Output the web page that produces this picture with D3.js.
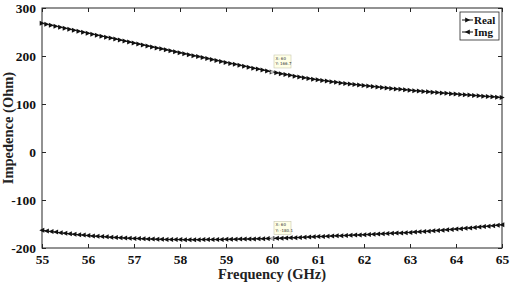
<!DOCTYPE html>
<html>
<head>
<meta charset="utf-8">
<script src="https://cdn.jsdelivr.net/npm/d3@7"></script>
<style>
  body { margin: 0; background: #fff; }
  svg text { font-family: "Liberation Serif", "Times New Roman", Times, "DejaVu Serif", serif; font-weight: bold; }
</style>
</head>
<body>
<svg id="vis"></svg>
<script>
// sampling grid 55..65 GHz, 0.1 GHz step
const freq = d3.range(0, 101).map(i => +(55 + i * 0.1).toFixed(1));

const realZ = [
  268.0, 266.0, 263.9, 261.9, 259.8, 257.8, 255.7, 253.7, 251.6, 249.6,
  247.5, 245.5, 243.4, 241.4, 239.3, 237.3, 235.2, 233.2, 231.1, 229.1,
  227.0, 225.0, 223.0, 220.9, 218.9, 216.9, 214.9, 212.9, 210.8, 208.8,
  206.8, 204.8, 202.8, 200.7, 198.7, 196.7, 194.7, 192.7, 190.7, 188.6,
  186.6, 184.6, 182.6, 180.6, 178.6, 176.6, 174.7, 172.7, 170.7, 168.7,
  166.7, 164.9, 163.1, 161.4, 159.7, 158.0, 156.4, 154.8, 153.2, 151.8,
  150.4, 149.0, 147.7, 146.4, 145.1, 143.9, 142.7, 141.6, 140.5, 139.4,
  138.4, 137.4, 136.4, 135.4, 134.4, 133.4, 132.4, 131.5, 130.5, 129.6,
  128.6, 127.8, 127.0, 126.2, 125.4, 124.6, 123.8, 123.0, 122.2, 121.4,
  120.6, 119.9, 119.2, 118.5, 117.8, 117.1, 116.4, 115.7, 115.0, 114.3,
  113.6
];

const imgZ = [
  -163.0, -164.4, -165.7, -166.9, -168.1, -169.2, -170.3, -171.3, -172.2, -173.1,
  -174.0, -174.8, -175.5, -176.2, -176.8, -177.4, -178.0, -178.5, -179.0, -179.5,
  -180.0, -180.4, -180.8, -181.1, -181.4, -181.7, -181.9, -182.1, -182.3, -182.4,
  -182.5, -182.6, -182.6, -182.6, -182.6, -182.5, -182.5, -182.4, -182.3, -182.2,
  -182.0, -181.9, -181.7, -181.5, -181.4, -181.2, -181.0, -180.8, -180.6, -180.4,
  -180.1, -179.8, -179.5, -179.1, -178.8, -178.4, -178.0, -177.6, -177.2, -176.8,
  -176.3, -175.9, -175.5, -175.1, -174.7, -174.3, -173.9, -173.5, -173.1, -172.7,
  -172.3, -171.9, -171.4, -170.9, -170.5, -170.0, -169.5, -169.0, -168.5, -168.0,
  -167.5, -166.9, -166.3, -165.6, -164.9, -164.2, -163.5, -162.8, -162.0, -161.3,
  -160.5, -159.7, -158.9, -158.1, -157.2, -156.3, -155.4, -154.5, -153.5, -152.5,
  -151.5
];

const xTicks = [55, 56, 57, 58, 59, 60, 61, 62, 63, 64, 65];
const yTicks = [-200, -100, 0, 100, 200, 300];
const seriesNames = ['Real', 'Img'];
const tips = [
  { x: 60, y: 166.7, label: 'Y: 166.7' },
  { x: 60, y: -180.1, label: 'Y: -180.1' }
];

const width = 510, height = 290;
const margin = { left: 42, right: 8, top: 8, bottom: 42 };
const axisColour = '#262626';
const serif = '"Liberation Serif", "Times New Roman", Times, "DejaVu Serif", serif';

const svg = d3.select('#vis').attr('width', width).attr('height', height);

const x = d3.scaleLinear().domain([55, 65]).range([margin.left, width - margin.right]);
const y = d3.scaleLinear().domain([-200, 300]).range([height - margin.bottom, margin.top]);

// box
svg.append('rect')
    .attr('x', x(55)).attr('y', y(300))
    .attr('width', x(65) - x(55)).attr('height', y(-200) - y(300))
    .attr('fill', 'white').attr('stroke', axisColour).attr('stroke-width', 1);

function styleAxis(g) {
    g.attr('font-family', null);
    g.select('.domain').remove();
    g.selectAll('.tick line').attr('stroke', axisColour);
    g.selectAll('.tick text')
        .attr('fill', '#111')
        .style('font-size', '13.5px')
        .style('font-family', serif)
        .style('font-weight', 'bold');
}

const plain = d => String(d);   // hyphen minus like the original

// ticks inside, MATLAB style
svg.append('g').attr('transform', `translate(0,${y(-200)})`)
    .call(d3.axisBottom(x).tickValues(xTicks).tickFormat(plain).tickSizeInner(-4).tickPadding(6))
    .call(styleAxis);
svg.append('g').attr('transform', `translate(0,${y(300)})`)
    .call(d3.axisTop(x).tickValues(xTicks).tickSizeInner(-4).tickFormat(''))
    .call(styleAxis);
svg.append('g').attr('transform', `translate(${x(55)},0)`)
    .call(d3.axisLeft(y).tickValues(yTicks).tickFormat(plain).tickSizeInner(-4).tickPadding(6))
    .call(styleAxis);
svg.append('g').attr('transform', `translate(${x(65)},0)`)
    .call(d3.axisRight(y).tickValues(yTicks).tickSizeInner(-4).tickFormat(''))
    .call(styleAxis);

svg.append('text')
    .attr('x', (x(55) + x(65)) / 2).attr('y', 279)
    .attr('text-anchor', 'middle')
    .style('font-size', '14.5px').style('font-family', serif).attr('fill', '#222')
    .text('Frequency (GHz)');

svg.append('text')
    .attr('transform', `translate(13,${(y(300) + y(-200)) / 2}) rotate(-90)`)
    .attr('text-anchor', 'middle')
    .style('font-size', '14.5px').style('font-family', serif).attr('fill', '#222')
    .text('Impedence (Ohm)');

const line = d3.line().x(d => x(d[0])).y(d => y(d[1]));

function triangle(dir) {
    // dir = 1 points right, -1 points left
    return `M${2.7 * dir},0L${-2.3 * dir},-2.5L${-2.3 * dir},2.5Z`;
}

function drawSeries(values, dir) {
    const pts = freq.map((f, i) => [f, values[i]]);
    const g = svg.append('g');
    g.append('path').datum(pts).attr('d', line)
        .attr('fill', 'none').attr('stroke', '#111').attr('stroke-width', 1);
    g.selectAll('path.mk').data(pts).join('path')
        .attr('class', 'mk')
        .attr('transform', d => `translate(${x(d[0])},${y(d[1])})`)
        .attr('d', triangle(dir))
        .attr('fill', '#111');
}

drawSeries(realZ, 1);
drawSeries(imgZ, -1);

// data tips
tips.forEach(t => {
    const px = x(t.x), py = y(t.y);
    svg.append('rect').attr('x', px - 1.5).attr('y', py - 1.5).attr('width', 3).attr('height', 3)
        .attr('fill', '#bbb');
    const g = svg.append('g').attr('transform', `translate(${px + 2},${py - 17})`);
    g.append('rect').attr('width', 17).attr('height', 13)
        .attr('fill', '#ffffe6').attr('stroke', '#c8c8b0').attr('stroke-width', 0.6);
    g.append('text').attr('x', 1.5).attr('y', 5).text('X: ' + t.x)
        .style('font-size', '4px').style('font-family', '"DejaVu Sans", sans-serif')
        .style('font-weight', 'normal').attr('fill', '#333');
    g.append('text').attr('x', 1.5).attr('y', 10.5).text(t.label)
        .style('font-size', '4px').style('font-family', '"DejaVu Sans", sans-serif')
        .style('font-weight', 'normal').attr('fill', '#333');
});

// legend
const lg = svg.append('g').attr('transform', 'translate(460,12)');
lg.append('rect').attr('width', 39).attr('height', 28)
    .attr('fill', 'white').attr('stroke', axisColour).attr('stroke-width', 0.8);
seriesNames.forEach((name, i) => {
    const ly = 8 + i * 12;
    lg.append('line').attr('x1', 2).attr('x2', 13).attr('y1', ly).attr('y2', ly)
        .attr('stroke', '#111').attr('stroke-width', 1);
    lg.append('path').attr('transform', `translate(7.5,${ly})`)
        .attr('d', triangle(i === 0 ? 1 : -1)).attr('fill', '#111');
    lg.append('text').attr('x', 14).attr('y', ly + 4)
        .style('font-size', '11px').style('font-family', serif).attr('fill', '#111').text(name);
});
</script>
</body>
</html>
